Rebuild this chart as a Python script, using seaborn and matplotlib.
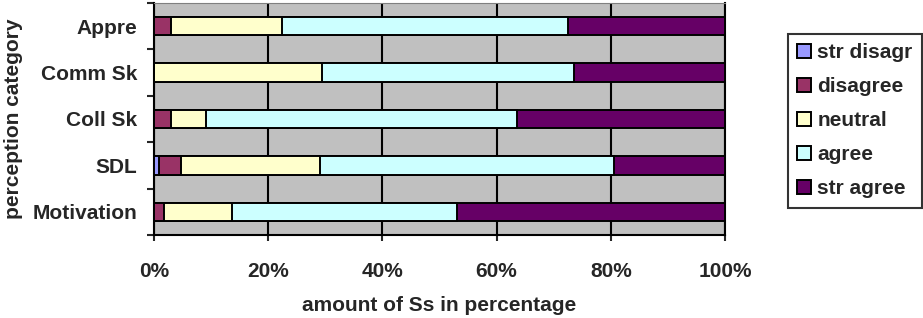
import pandas as pd
import matplotlib.pyplot as plt
import matplotlib.patches as mpatches
from matplotlib.ticker import FixedLocator
import seaborn as sns

# Survey data (percent of Ss per perception category)
categories = ["Appre", "Comm Sk", "Coll Sk", "SDL", "Motivation"]
str_disagr = [0.0, 0.0, 0.0, 0.8, 0.0]
disagree = [2.9, 0.0, 2.9, 3.9, 1.8]
neutral = [19.5, 29.4, 6.2, 24.4, 11.8]
agree = [50.1, 44.1, 54.5, 51.5, 39.4]
str_agree = [27.5, 26.5, 36.4, 19.4, 47.0]
levels = ["str disagr", "disagree", "neutral", "agree", "str agree"]
x_ticks = [0, 20, 40, 60, 80, 100]

colors = {"str disagr": "#9999FF", "disagree": "#993366", "neutral": "#FFFFCC",
          "agree": "#CCFFFF", "str agree": "#660066"}

sns.set_style("white")
plt.rcParams["font.family"] = ["Liberation Sans", "DejaVu Sans"]
plt.rcParams["font.weight"] = "bold"
FS = 15

df = pd.DataFrame({"category": categories, "str disagr": str_disagr,
                   "disagree": disagree, "neutral": neutral,
                   "agree": agree, "str agree": str_agree})
cum = df[levels].cumsum(axis=1)
cum["category"] = df["category"]

fig = plt.figure(figsize=(9.23, 3.18), dpi=100)
ax = fig.add_axes([154 / 923, 1 - 235 / 318, 571 / 923, 232 / 318])
ax.set_facecolor("#C0C0C0")

# stacked bars: draw cumulative totals from the outermost segment inwards
for lev in reversed(levels):
    sns.barplot(data=cum, x=lev, y="category", orient="h", color=colors[lev],
                saturation=1, width=0.4, edgecolor="black", linewidth=1.4,
                ax=ax, zorder=3)

ax.set_xlim(0, 100)
ax.set_ylim(4.5, -0.5)
ax.xaxis.set_major_locator(FixedLocator(x_ticks))
ax.set_xticklabels([f"{t}%" for t in x_ticks], fontsize=FS, fontweight="bold")
ax.grid(axis="x", color="black", linewidth=1.5, zorder=0)
ax.set_axisbelow(True)
ax.tick_params(axis="x", direction="out", length=4, width=1.5, pad=15.5, bottom=True)
ax.tick_params(axis="y", which="major", length=0, pad=12, labelsize=FS)
ax.yaxis.set_minor_locator(FixedLocator([-0.5, 0.5, 1.5, 2.5, 3.5, 4.5]))
ax.tick_params(axis="y", which="minor", direction="out", length=5, width=1.5, left=True)
for lab in ax.get_yticklabels():
    lab.set_fontweight("bold")

ax.spines["left"].set_linewidth(1.5)
ax.spines["bottom"].set_linewidth(1.5)
ax.spines["left"].set_color("black")
ax.spines["bottom"].set_color("black")
ax.spines["top"].set_color("#808080")
ax.spines["right"].set_color("black")
ax.spines["right"].set_linewidth(1.5)

ax.set_xlabel("amount of Ss in percentage", fontsize=FS, fontweight="bold", labelpad=11)
ax.set_ylabel("perception category", fontsize=FS, fontweight="bold", labelpad=7)

handles = [mpatches.Patch(facecolor=colors[l], edgecolor="black", linewidth=1.4, label=l)
           for l in levels]
leg = fig.legend(handles=handles, loc="upper left", bbox_to_anchor=(788 / 923, 1 - 34 / 318),
                 frameon=True, fancybox=False, fontsize=FS, handlelength=0.65,
                 handleheight=0.65, handletextpad=0.3, labelspacing=0.72,
                 borderpad=0.45, borderaxespad=0)
leg.get_frame().set_edgecolor("black")
leg.get_frame().set_linewidth(1.5)
leg.get_frame().set_facecolor("white")
for t in leg.get_texts():
    t.set_fontweight("bold")

fig.savefig("out.png", dpi=100)
